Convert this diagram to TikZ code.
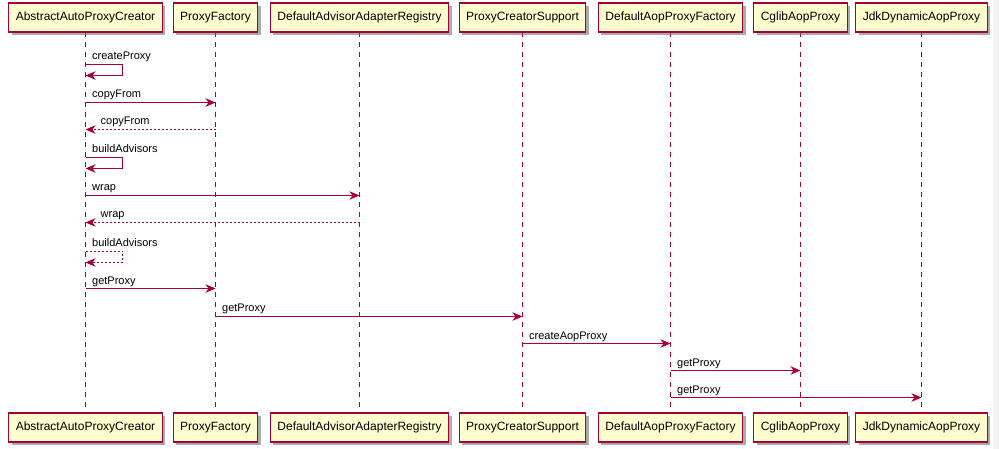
\documentclass[tikz,border=0pt]{standalone}
\usepackage{fontspec}
\setmainfont{Liberation Sans}
\usetikzlibrary{arrows.meta,shadows}
\definecolor{pumlred}{HTML}{A80036}
\definecolor{pumlfill}{HTML}{FEFECE}
\definecolor{stripgray}{HTML}{F3F3F3}
\tikzset{
  actor/.style={draw=pumlred, fill=pumlfill, line width=1.1pt, minimum height=29pt,
    inner xsep=7pt, inner ysep=0pt, font=\fontsize{12pt}{14pt}\selectfont, text=black,
    drop shadow={shadow xshift=3pt, shadow yshift=-3pt, fill=black!55, opacity=.6}},
  lifeline/.style={draw=pumlred, line width=0.9pt, dash pattern=on 5pt off 5pt},
  msg/.style={draw=pumlred, line width=1pt, -{Stealth[length=10pt,width=8.5pt,inset=3pt]}},
  ret/.style={msg, dash pattern=on 2pt off 2pt},
  lbl/.style={anchor=base west, inner sep=0pt, font=\fontsize{11pt}{13pt}\selectfont, text=black}
}
\begin{document}
\begin{tikzpicture}[x=1pt,y=-1pt]
\useasboundingbox (0,0) rectangle (999,449);
\fill[white] (0,0) rectangle (999,449);
\fill[stripgray] (993,0) rectangle (999,449);
% lifeline anchors
\coordinate (xa) at (85.5,0);
\coordinate (xb) at (215.5,0);
\coordinate (xc) at (359.5,0);
\coordinate (xd) at (522.5,0);
\coordinate (xe) at (670.5,0);
\coordinate (xf) at (800.5,0);
\coordinate (xg) at (921.5,0);
% lifelines
\foreach \c in {xa,xb,xc,xd,xe,xf,xg}{
  \draw[lifeline] (\c |- 0,32) -- (\c |- 0,414);
}
% top participants
\node[actor] (aapc) at (xa |- 0,17.5) {AbstractAutoProxyCreator};
\node[actor] (pf) at (xb |- 0,17.5) {ProxyFactory};
\node[actor] (daar) at (xc |- 0,17.5) {DefaultAdvisorAdapterRegistry};
\node[actor] (pcs) at (xd |- 0,17.5) {ProxyCreatorSupport};
\node[actor] (dapf) at (xe |- 0,17.5) {DefaultAopProxyFactory};
\node[actor] (cglib) at (xf |- 0,17.5) {CglibAopProxy};
\node[actor] (jdk) at (xg |- 0,17.5) {JdkDynamicAopProxy};
% bottom participants
\node[actor] (aapcB) at (xa |- 0,427.5) {AbstractAutoProxyCreator};
\node[actor] (pfB) at (xb |- 0,427.5) {ProxyFactory};
\node[actor] (daarB) at (xc |- 0,427.5) {DefaultAdvisorAdapterRegistry};
\node[actor] (pcsB) at (xd |- 0,427.5) {ProxyCreatorSupport};
\node[actor] (dapfB) at (xe |- 0,427.5) {DefaultAopProxyFactory};
\node[actor] (cglibB) at (xf |- 0,427.5) {CglibAopProxy};
\node[actor] (jdkB) at (xg |- 0,427.5) {JdkDynamicAopProxy};
% messages
% 1 createProxy (self)
\draw[msg] (aapc |- 0,64.5) -- ++(37,0) -- ++(0,11) -- (aapc |- 0,75.5);
\path (aapc |- 0,64.5) ++(6.5,-4.5) node[lbl] {createProxy};
% 2 copyFrom
\draw[msg] (aapc |- 0,102.5) -- (pf |- 0,102.5);
\path (aapc |- 0,102.5) ++(6.5,-4.5) node[lbl] {copyFrom};
% 3 copyFrom return
\draw[ret] (pf |- 0,129.5) -- (aapc |- 0,129.5);
\path (aapc |- 0,129.5) ++(15,-4.5) node[lbl] {copyFrom};
% 4 buildAdvisors (self)
\draw[msg] (aapc |- 0,157.5) -- ++(37,0) -- ++(0,11) -- (aapc |- 0,168.5);
\path (aapc |- 0,157.5) ++(6.5,-4.5) node[lbl] {buildAdvisors};
% 5 wrap
\draw[msg] (aapc |- 0,195.5) -- (daar |- 0,195.5);
\path (aapc |- 0,195.5) ++(6.5,-4.5) node[lbl] {wrap};
% 6 wrap return
\draw[ret] (daar |- 0,222.5) -- (aapc |- 0,222.5);
\path (aapc |- 0,222.5) ++(15,-4.5) node[lbl] {wrap};
% 7 buildAdvisors return (self)
\draw[ret] (aapc |- 0,251.5) -- ++(37,0) -- ++(0,11) -- (aapc |- 0,262.5);
\path (aapc |- 0,251.5) ++(6.5,-4.5) node[lbl] {buildAdvisors};
% 8 getProxy
\draw[msg] (aapc |- 0,288.5) -- (pf |- 0,288.5);
\path (aapc |- 0,288.5) ++(6.5,-4.5) node[lbl] {getProxy};
% 9 getProxy
\draw[msg] (pf |- 0,316.5) -- (pcs |- 0,316.5);
\path (pf |- 0,316.5) ++(6.5,-4.5) node[lbl] {getProxy};
% 10 createAopProxy
\draw[msg] (pcs |- 0,343.5) -- (dapf |- 0,343.5);
\path (pcs |- 0,343.5) ++(6.5,-4.5) node[lbl] {createAopProxy};
% 11 getProxy cglib
\draw[msg] (dapf |- 0,370.5) -- (cglib |- 0,370.5);
\path (dapf |- 0,370.5) ++(6.5,-4.5) node[lbl] {getProxy};
% 12 getProxy jdk
\draw[msg] (dapf |- 0,397.5) -- (jdk |- 0,397.5);
\path (dapf |- 0,397.5) ++(6.5,-4.5) node[lbl] {getProxy};
\end{tikzpicture}
\end{document}
